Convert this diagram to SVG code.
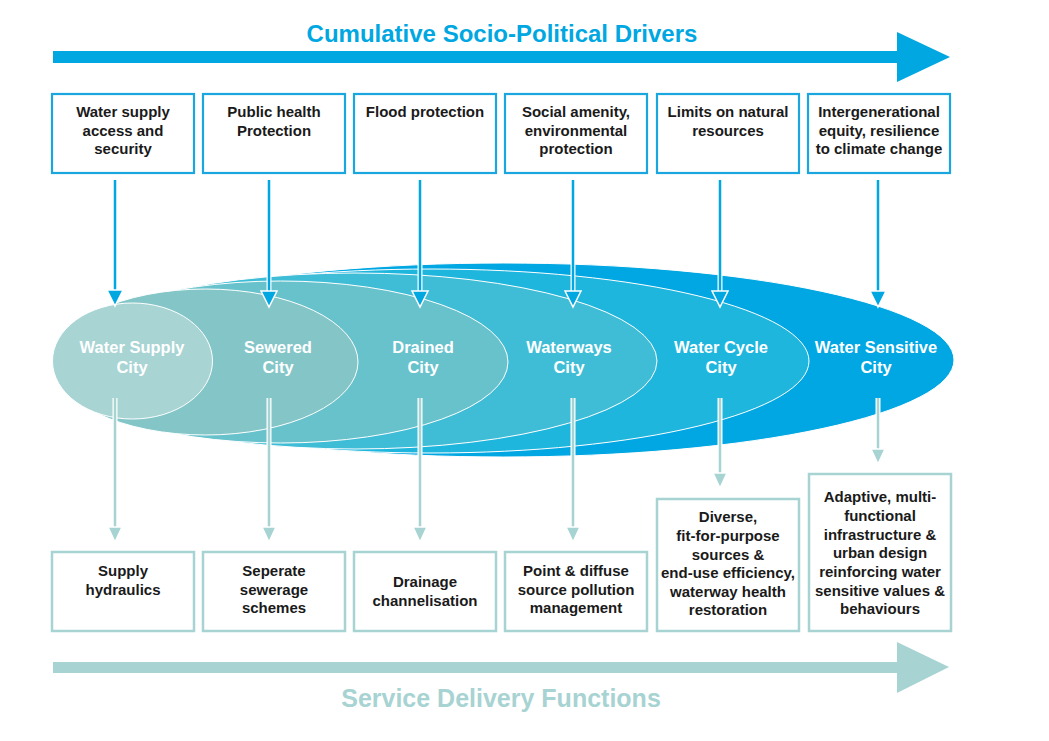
<svg xmlns="http://www.w3.org/2000/svg" width="1049" height="741" viewBox="0 0 1049 741">
<style>
.t{font-family:"Liberation Sans",Arial,sans-serif;font-weight:bold;font-size:15px;fill:#1a1a1a;text-anchor:middle}
.c{font-family:"Liberation Sans",Arial,sans-serif;font-weight:bold;font-size:16.5px;fill:#ffffff;text-anchor:middle}
.h{font-family:"Liberation Sans",Arial,sans-serif;font-weight:bold;font-size:24px;text-anchor:middle}
.tb{fill:#ffffff;stroke:#1aa7df;stroke-width:2.2}
.bb{fill:#ffffff;stroke:#a7d3d2;stroke-width:2.5}
.el{stroke:#ffffff;stroke-width:1}
.lb{stroke:#00a7e1;stroke-width:2.5}
.lt{stroke:#a7d3d2;stroke-width:2.5}
.lw{stroke:#ffffff;stroke-width:5}
.hb{fill:#00a7e1;stroke:#ffffff;stroke-width:1.5}
.ht{fill:#a7d3d2;stroke:#ffffff;stroke-width:1.5}
</style>
<rect width="1049" height="741" fill="#ffffff"/>

<g id="top-arrow">
<text class="h" x="502" y="42" fill="#00a7e1">Cumulative Socio-Political Drivers</text>
<polygon points="53,51 897,51 897,32 950,57 897,82 897,63 53,63" fill="#00a7e1"/>
</g>

<g id="bottom-arrow">
<polygon points="53,662 897,662 897,642 949,667 897,693 897,673 53,673" fill="#a7d3d2"/>
<text class="h" x="501" y="707" fill="#a7d3d2" style="font-size:25px">Service Delivery Functions</text>
</g>

<g id="cities">
<g id="water-sensitive-city">
<ellipse class="el" cx="503.5" cy="360" rx="450.5" ry="97" fill="#00a7e3"/>
</g>
<g id="water-cycle-city">
<ellipse class="el" cx="431" cy="361" rx="378" ry="92" fill="#1fb6de"/>
</g>
<g id="waterways-city">
<ellipse class="el" cx="355" cy="361" rx="302" ry="88" fill="#40bdd6"/>
</g>
<g id="drained-city">
<ellipse class="el" cx="280.5" cy="362" rx="227.5" ry="81" fill="#68c2cc"/>
</g>
<g id="sewered-city">
<ellipse class="el" cx="205.5" cy="362" rx="152.5" ry="73" fill="#84c6c8"/>
</g>
<g id="water-supply-city">
<ellipse class="el" cx="132.5" cy="361" rx="80" ry="58" fill="#a8d4d3"/>
</g>
<text class="c" x="132" y="353">Water Supply</text><text class="c" x="132" y="373">City</text>
<text class="c" x="278" y="353">Sewered</text><text class="c" x="278" y="373">City</text>
<text class="c" x="423" y="353">Drained</text><text class="c" x="423" y="373">City</text>
<text class="c" x="569" y="353">Waterways</text><text class="c" x="569" y="373">City</text>
<text class="c" x="721" y="353">Water Cycle</text><text class="c" x="721" y="373">City</text>
<text class="c" x="876" y="353">Water Sensitive</text><text class="c" x="876" y="373">City</text>
</g>

<g id="connectors">
<g id="drivers-down">
<line class="lw" x1="115" y1="180" x2="115" y2="291"/><line class="lb" x1="115" y1="180" x2="115" y2="292"/>
<polygon class="hb" points="107,290 123,290 115,306"/>
<line class="lw" x1="269" y1="180" x2="269" y2="291"/><line class="lb" x1="269" y1="180" x2="269" y2="292"/>
<polygon class="hb" points="261,291 277,291 269,307"/>
<line class="lw" x1="420" y1="180" x2="420" y2="291"/><line class="lb" x1="420" y1="180" x2="420" y2="292"/>
<polygon class="hb" points="412,291 428,291 420,307"/>
<line class="lw" x1="573" y1="180" x2="573" y2="291"/><line class="lb" x1="573" y1="180" x2="573" y2="292"/>
<polygon class="hb" points="565,291 581,291 573,307"/>
<line class="lw" x1="720" y1="180" x2="720" y2="291"/><line class="lb" x1="720" y1="180" x2="720" y2="292"/>
<polygon class="hb" points="712,291 728,291 720,307"/>
<line class="lw" x1="878" y1="180" x2="878" y2="291"/><line class="lb" x1="878" y1="180" x2="878" y2="292"/>
<polygon class="hb" points="870,291 886,291 878,307"/>
</g>
<g id="functions-down">
<line class="lw" x1="115" y1="398" x2="115" y2="528"/><line class="lt" x1="115" y1="398" x2="115" y2="529"/>
<polygon class="ht" points="108,527 122,527 115,542"/>
<line class="lw" x1="269" y1="398" x2="269" y2="528"/><line class="lt" x1="269" y1="398" x2="269" y2="529"/>
<polygon class="ht" points="262,527 276,527 269,542"/>
<line class="lw" x1="420" y1="398" x2="420" y2="528"/><line class="lt" x1="420" y1="398" x2="420" y2="529"/>
<polygon class="ht" points="413,527 427,527 420,542"/>
<line class="lw" x1="573" y1="398" x2="573" y2="528"/><line class="lt" x1="573" y1="398" x2="573" y2="529"/>
<polygon class="ht" points="566,527 580,527 573,542"/>
<line class="lw" x1="720" y1="398" x2="720" y2="474"/><line class="lt" x1="720" y1="398" x2="720" y2="475"/>
<polygon class="ht" points="713,473 727,473 720,488"/>
<line class="lw" x1="878" y1="398" x2="878" y2="450"/><line class="lt" x1="878" y1="398" x2="878" y2="451"/>
<polygon class="ht" points="871,449 885,449 878,464"/>
</g>
</g>

<g id="driver-water-supply"><rect class="tb" x="52" y="94" width="142" height="79"/>
<text class="t" x="123" y="117">Water supply</text><text class="t" x="123" y="135.5">access and</text><text class="t" x="123" y="154">security</text></g>
<g id="driver-public-health"><rect class="tb" x="203" y="94" width="142" height="79"/>
<text class="t" x="274" y="117">Public health</text><text class="t" x="274" y="135.5">Protection</text></g>
<g id="driver-flood"><rect class="tb" x="354" y="94" width="142" height="79"/>
<text class="t" x="425" y="117">Flood protection</text></g>
<g id="driver-social"><rect class="tb" x="505" y="94" width="142" height="79"/>
<text class="t" x="576" y="117">Social amenity,</text><text class="t" x="576" y="135.5">environmental</text><text class="t" x="576" y="154">protection</text></g>
<g id="driver-limits"><rect class="tb" x="657" y="94" width="142" height="79"/>
<text class="t" x="728" y="117">Limits on natural</text><text class="t" x="728" y="135.5">resources</text></g>
<g id="driver-intergenerational"><rect class="tb" x="808" y="94" width="142" height="79"/>
<text class="t" x="879" y="117">Intergenerational</text><text class="t" x="879" y="135.5">equity, resilience</text><text class="t" x="879" y="154">to climate change</text></g>

<g id="func-supply"><rect class="bb" x="52" y="552" width="142" height="79"/>
<text class="t" x="123" y="576">Supply</text><text class="t" x="123" y="594.5">hydraulics</text></g>
<g id="func-sewerage"><rect class="bb" x="203" y="552" width="142" height="79"/>
<text class="t" x="274" y="576">Seperate</text><text class="t" x="274" y="594.5">sewerage</text><text class="t" x="274" y="613">schemes</text></g>
<g id="func-drainage"><rect class="bb" x="354" y="552" width="142" height="79"/>
<text class="t" x="425" y="587">Drainage</text><text class="t" x="425" y="605.5">channelisation</text></g>
<g id="func-pollution"><rect class="bb" x="505" y="552" width="142" height="79"/>
<text class="t" x="576" y="576">Point &amp; diffuse</text><text class="t" x="576" y="594.5">source pollution</text><text class="t" x="576" y="613">management</text></g>
<g id="func-diverse"><rect class="bb" x="657" y="499" width="142" height="132"/>
<text class="t" x="728" y="522">Diverse,</text><text class="t" x="728" y="541">fit-for-purpose</text><text class="t" x="728" y="559.5">sources &amp;</text><text class="t" x="728" y="578">end-use efficiency,</text><text class="t" x="728" y="596.5">waterway health</text><text class="t" x="728" y="615">restoration</text></g>
<g id="func-adaptive"><rect class="bb" x="809" y="474" width="142" height="157"/>
<text class="t" x="880" y="502">Adaptive, multi-</text><text class="t" x="880" y="521">functional</text><text class="t" x="880" y="539.5">infrastructure &amp;</text><text class="t" x="880" y="558">urban design</text><text class="t" x="880" y="577">reinforcing water</text><text class="t" x="880" y="595.5">sensitive values &amp;</text><text class="t" x="880" y="614">behaviours</text></g>
</svg>
